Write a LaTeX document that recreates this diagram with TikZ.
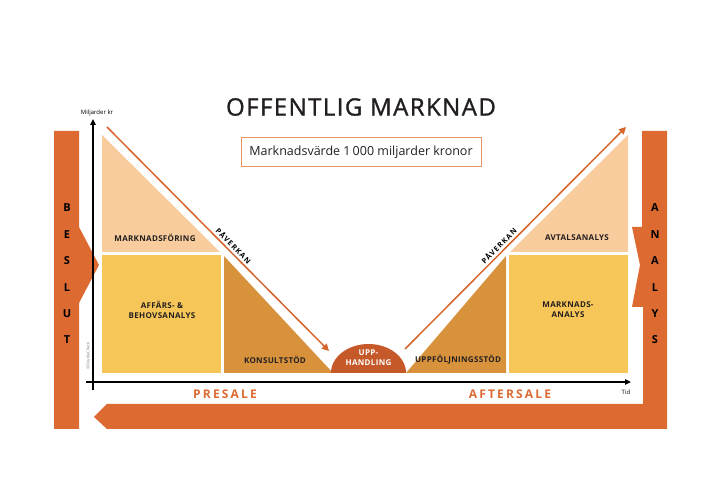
\documentclass[tikz,border=0pt]{standalone}
\usepackage{fontspec}
\setmainfont{Open Sans}
\usetikzlibrary{arrows.meta, positioning, calc}
\definecolor{barorange}{RGB}{220,106,49}
\definecolor{arroworange}{RGB}{214,101,44}
\definecolor{peach}{RGB}{248,204,156}
\definecolor{sunyellow}{RGB}{247,198,88}
\definecolor{ochre}{RGB}{216,146,60}
\definecolor{rust}{RGB}{198,89,42}
\definecolor{boxline}{RGB}{230,150,100}
\definecolor{textdark}{RGB}{35,31,32}

\begin{document}
\begin{tikzpicture}[
    x=1pt, y=-1pt,
    seglabel/.style={font=\fontsize{8}{10}\selectfont\bfseries\addfontfeature{LetterSpace=4},
                     text=textdark, align=center, inner sep=0pt},
    barletter/.style={font=\fontsize{11}{12}\selectfont\bfseries, text=black, inner sep=0pt},
    phase/.style={font=\fontsize{12}{14}\selectfont\bfseries\addfontfeature{LetterSpace=18},
                  text=barorange, inner sep=0pt},
    influence/.style={-{Triangle[length=7pt,width=7pt]}, line width=1.5pt, draw=arroworange},
    axis/.style={-{Triangle[length=6pt,width=5.5pt]}, line width=1.4pt, draw=black},
    tiny/.style={font=\fontsize{6}{7}\selectfont, text=black, inner sep=0pt}
]
\useasboundingbox (0,0) rectangle (710,502);

% orange frame: beslut bar and analys / bottom bar
\fill[barorange] (54,131) -- (79,131) -- (79,227) -- (99,265) -- (79,303)
    -- (79,429) -- (54,429) -- cycle;
\fill[barorange] (94,417) -- (107,404) -- (643,404) -- (643,307) -- (632,307)
    -- (640,265) -- (632,227) -- (642,227) -- (642,131) -- (667,131)
    -- (667,429) -- (107,429) -- cycle;

% presale side
\fill[peach] (102,135) -- (102,252) -- (220,252) -- cycle;
\fill[sunyellow] (102,255) rectangle (221,373);
\fill[ochre] (224,256) -- (224,373) -- (333,373) -- cycle;

% aftersale side
\fill[peach] (628,135) -- (628,252) -- (510,252) -- cycle;
\fill[sunyellow] (509,255) rectangle (628,373);
\fill[ochre] (506,256) -- (506,373) -- (406,373) -- cycle;

% upphandling
\begin{scope}
  \clip (329,373) rectangle (409,340);
  \fill[rust] (368.5,373) ellipse [x radius=37.5pt, y radius=29pt];
\end{scope}

% paaverkan arrows
\coordinate (lstart) at (107,127);
\coordinate (lend) at (329,351);
\coordinate (rstart) at (405,349);
\coordinate (rend) at (626,127);
\draw[influence] (lstart) -- node[pos=0.55, sloped, above=2.5pt, inner sep=0pt,
    font=\fontsize{7.3}{8}\selectfont\bfseries\addfontfeature{LetterSpace=15}] (lpaverkan) {PÅVERKAN} (lend);
\draw[influence] (rstart) -- node[pos=0.445, sloped, above=2.5pt, inner sep=0pt,
    font=\fontsize{7.3}{8}\selectfont\bfseries\addfontfeature{LetterSpace=15}] (rpaverkan) {PÅVERKAN} (rend);

% axes
\coordinate (yfoot) at (93,390);
\coordinate (ytop) at (93,119);
\coordinate (xfoot) at (86,382);
\coordinate (xend) at (631,382);
\draw[axis] (yfoot) -- (ytop);
\draw[axis] (xfoot) -- (xend);
\node[tiny] (ylabel) at (97,113) {Miljarder kr};
\node[tiny] (xlabel) at (626,392) {Tid};
\node[font=\fontsize{3.8}{4}\selectfont, text=black!55, rotate=90, inner sep=0pt] (copy) at (88,356) {©DoubleCheck};

% title and value box
\node[font=\fontsize{24}{27}\selectfont\addfontfeature{LetterSpace=6,FakeBold=1.2}, text=textdark, inner sep=0pt] (title) at (361,107) {OFFENTLIG MARKNAD};
\node[draw=boxline, line width=1pt, minimum width=240pt, minimum height=29pt,
      font=\fontsize{12.5}{14}\selectfont, text=textdark, below=21pt of title] (value) {Marknadsvärde 1\,000 miljarder kronor};

% segment labels
\node[seglabel] (mfor) at (155,238) {MARKNADSFÖRING};
\node[seglabel] (affar) at (162,310) {AFFÄRS- \&\\BEHOVSANALYS};
\node[seglabel] (konsult) at (275,360) {KONSULTSTÖD};
\node[seglabel, text=white] (upph) at (368.5,358) {UPP-\\HANDLING};
\node[seglabel] (uppfolj) at (458,360) {UPPFÖLJNINGSSTÖD};
\node[seglabel] (avtal) at (577,238) {AVTALSANALYS};
\node[seglabel] (manalys) at (568,310) {MARKNADS-\\ANALYS};

% phases
\node[phase] (presale) at (225,394) {PRESALE};
\node[phase] (aftersale) at (510,394) {AFTERSALE};

% bar letters
\foreach \l [count=\i] in {B,E,S,L,U,T}
  \node[barletter] (beslut\i) at (67,{208+26.4*(\i-1)}) {\l};
\foreach \l [count=\i] in {A,N,A,L,Y,S}
  \node[barletter] (analys\i) at (655,{208+26.4*(\i-1)}) {\l};

\end{tikzpicture}
\end{document}
